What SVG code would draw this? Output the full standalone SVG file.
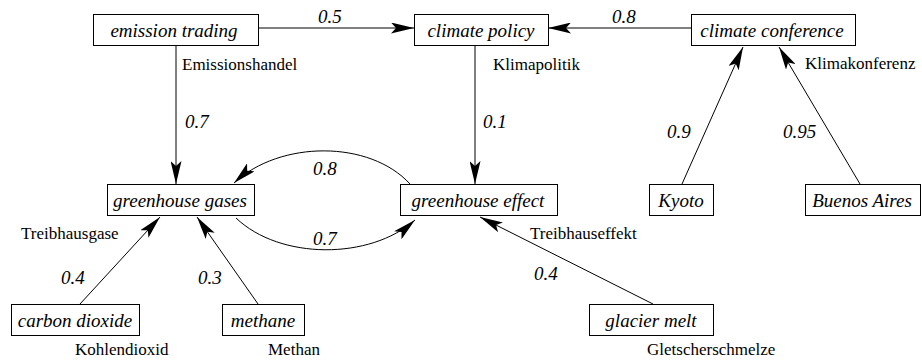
<svg xmlns="http://www.w3.org/2000/svg" width="922" height="360" viewBox="0 0 922 360">
<style>
.box{fill:#fff;stroke:#000;stroke-width:1}
.nl{font-style:italic;font-size:19px;text-anchor:middle}
.de{font-size:17px}
.w{font-style:italic;font-size:19px}
.e{fill:none;stroke:#000;stroke-width:1;marker-end:url(#ah)}
</style>
<defs>
<marker id="ah" markerUnits="userSpaceOnUse" viewBox="0 0 23 11" markerWidth="23" markerHeight="11" refX="23" refY="5.5" orient="auto">
<path d="M0,0 L23,5.5 L0,11 L5,5.5 Z" fill="#000"/>
</marker>
</defs>
<g font-family="Liberation Serif, serif" fill="#000">
<g id="edges">
<line class="e" x1="258" y1="28" x2="414" y2="28"/>
<line class="e" x1="691" y1="28" x2="548" y2="28"/>
<line class="e" x1="176" y1="46" x2="176" y2="184"/>
<line class="e" x1="475" y1="46" x2="475" y2="184"/>
<path class="e" d="M410 184 C370 140 280 140 234 183"/>
<path class="e" d="M236 218 C280 260 370 260 415 220"/>
<line class="e" x1="682" y1="184" x2="743" y2="47"/>
<line class="e" x1="860" y1="184" x2="779" y2="47"/>
<line class="e" x1="80" y1="304" x2="160" y2="217"/>
<line class="e" x1="258" y1="304" x2="197" y2="217"/>
<line class="e" x1="653" y1="304" x2="480" y2="217"/>
<text class="w" x="318" y="23">0.5</text>
<text class="w" x="612" y="23">0.8</text>
<text class="w" x="185" y="128">0.7</text>
<text class="w" x="483" y="128">0.1</text>
<text class="w" x="313" y="175">0.8</text>
<text class="w" x="313" y="245">0.7</text>
<text class="w" x="667" y="138">0.9</text>
<text class="w" x="783" y="138">0.95</text>
<text class="w" x="61" y="284">0.4</text>
<text class="w" x="198" y="284">0.3</text>
<text class="w" x="534" y="280">0.4</text>
</g>
<g id="n-emission-trading">
<rect class="box" x="93.5" y="14.5" width="165" height="31"/>
<text class="nl" x="174" y="37">emission trading</text>
<text class="de" x="182" y="70">Emissionshandel</text>
</g>
<g id="n-climate-policy">
<rect class="box" x="414.5" y="14.5" width="134" height="31"/>
<text class="nl" x="481" y="37">climate policy</text>
<text class="de" x="493" y="70">Klimapolitik</text>
</g>
<g id="n-climate-conference">
<rect class="box" x="691.5" y="14.5" width="164" height="31"/>
<text class="nl" x="772" y="37">climate conference</text>
<text class="de" x="805" y="69">Klimakonferenz</text>
</g>
<g id="n-greenhouse-gases">
<rect class="box" x="107.5" y="184.5" width="147" height="31"/>
<text class="nl" x="180" y="207">greenhouse gases</text>
<text class="de" x="21" y="239">Treibhausgase</text>
</g>
<g id="n-greenhouse-effect">
<rect class="box" x="400.5" y="184.5" width="157" height="31"/>
<text class="nl" x="478" y="207">greenhouse effect</text>
<text class="de" x="530" y="239">Treibhauseffekt</text>
</g>
<g id="n-kyoto">
<rect class="box" x="649.5" y="184.5" width="64" height="31"/>
<text class="nl" x="681" y="207">Kyoto</text>
</g>
<g id="n-buenos-aires">
<rect class="box" x="805.5" y="184.5" width="115" height="31"/>
<text class="nl" x="862" y="207">Buenos Aires</text>
</g>
<g id="n-carbon-dioxide">
<rect class="box" x="11.5" y="304.5" width="128" height="31"/>
<text class="nl" x="75" y="327">carbon dioxide</text>
<text class="de" x="75" y="355">Kohlendioxid</text>
</g>
<g id="n-methane">
<rect class="box" x="222.5" y="304.5" width="82" height="31"/>
<text class="nl" x="263" y="327">methane</text>
<text class="de" x="268" y="355">Methan</text>
</g>
<g id="n-glacier-melt">
<rect class="box" x="589.5" y="304.5" width="124" height="31"/>
<text class="nl" x="651" y="327">glacier melt</text>
<text class="de" x="647" y="355">Gletscherschmelze</text>
</g>
</g>
</svg>
